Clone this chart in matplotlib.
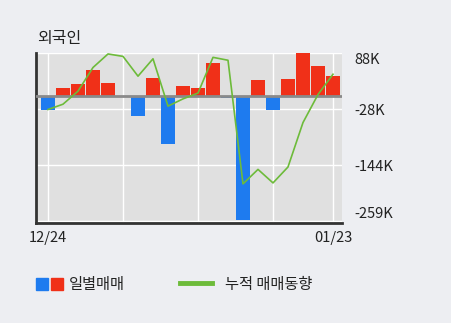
import matplotlib.pyplot as plt
import matplotlib.patches as mpatches
import matplotlib.lines as mlines
import numpy as np

plt.rcParams['font.family'] = ['Noto Sans CJK KR', 'DejaVu Sans']

# daily net buying (thousand shares) and cumulative trend
days = list(range(20))
daily = [-29, 16, 24, 52, 26, -3, -43, 37, -100, 20,
         16, 68, -5, -257, 33, -31, 35, 88, 61, 41]
cumulative = [-29, -18, 9, 58, 86, 81, 40, 76, -22, -7,
              5, 79, 73, -183, -153, -181, -148, -56, 2, 44]
x_labels = {0: "12/24", 19: "01/23"}
y_ticks = [88, -28, -144, -259]
y_tick_labels = ["88K", "-28K", "-144K", "-259K"]

W, H = 451, 323
fig = plt.figure(figsize=(W / 100, H / 100), dpi=100)
fig.patch.set_facecolor("#EDEEF2")

ax = fig.add_axes([36 / W, 1 - 223 / H, (342 - 36) / W, (223 - 53) / H])
ax.set_facecolor("#E0E0E0")

colors = ["#1E7BEF" if v < 0 else "#F03018" for v in daily]
ax.bar(days, daily, width=0.87, color=colors, zorder=3)
ax.axhline(0, color="#8A8A8A", lw=2, zorder=4)
ax.plot(days, cumulative, color="#6DBB3A", lw=1.2, zorder=5)

ax.set_xlim(-0.8, 19.6)
ax.set_ylim(-264, 88)

ax.set_xticks(list(x_labels.keys()))
ax.set_xticklabels(list(x_labels.values()), fontsize=10.5)
ax.set_yticks(y_ticks)
ax.set_yticklabels(y_tick_labels, fontsize=10.5)
ax.yaxis.tick_right()
ax.tick_params(length=0, pad=9, colors="#222222")
ax.tick_params(axis="x", pad=6)
# outer labels nudged inward like the reference
ax.get_yticklabels()[0].set_va("top")
ax.get_yticklabels()[-1].set_va("bottom")

# vertical grid every 5 days
for gx in [0, 5, 10, 15, 19]:
    ax.axvline(gx, color="white", lw=1, zorder=1)
for gy in y_ticks:
    ax.axhline(gy, color="white", lw=1, zorder=1)

for s in ["top", "right"]:
    ax.spines[s].set_visible(False)
ax.spines["left"].set_color("#333333")
ax.spines["left"].set_linewidth(2)
ax.spines["bottom"].set_color("#333333")
ax.spines["bottom"].set_linewidth(2)

fig.text(37 / W, 1 - 38 / H, "외국인", fontsize=11.5, va="center", ha="left", color="#222222")

# legend
fig.patches.append(mpatches.Rectangle((36 / W, 1 - 290 / H), 12 / W, 12 / H,
                                      transform=fig.transFigure, color="#1E7BEF"))
fig.patches.append(mpatches.Rectangle((51 / W, 1 - 290 / H), 12 / W, 12 / H,
                                      transform=fig.transFigure, color="#F03018"))
fig.text(69 / W, 1 - 284 / H, "일별매매", fontsize=11, va="center", ha="left", color="#222222")
fig.lines.append(mlines.Line2D([180 / W, 212 / W], [1 - 283 / H, 1 - 283 / H],
                               transform=fig.transFigure, color="#6DBB3A", lw=3.5))
fig.text(225 / W, 1 - 284 / H, "누적 매매동향", fontsize=11, va="center", ha="left", color="#222222")

fig.savefig("out.png", dpi=100, facecolor=fig.get_facecolor())
